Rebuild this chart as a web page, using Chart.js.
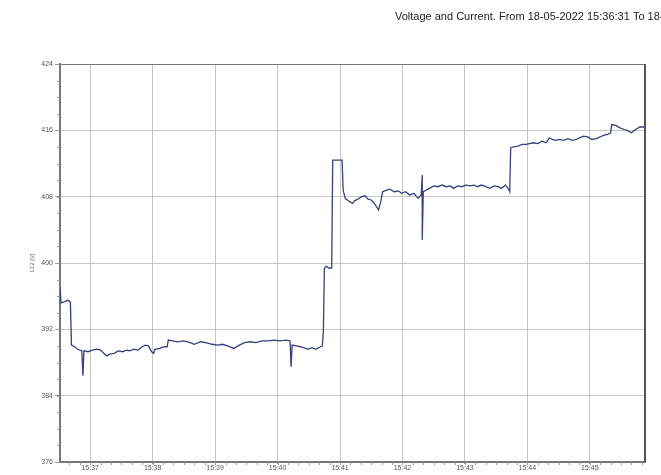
<!DOCTYPE html>
<html>
<head>
<meta charset="utf-8">
<script src="https://cdn.jsdelivr.net/npm/chart.js@4/dist/chart.umd.min.js"></script>
<style>
  html, body { margin: 0; padding: 0; background: #fff; overflow: hidden; }
</style>
</head>
<body>
<canvas id="c" width="661" height="475"></canvas>
<script>
// L12 line voltage log, 18-05-2022
const times = [
  '15:36:31','15:36:32','15:36:35','15:36:38','15:36:40','15:36:41','15:36:42','15:36:45','15:36:48','15:36:52',
  '15:36:53','15:36:54','15:36:58','15:37:02','15:37:06','15:37:10','15:37:13','15:37:16','15:37:19','15:37:23',
  '15:37:27','15:37:31','15:37:35','15:37:38','15:37:42','15:37:46','15:37:50','15:37:53','15:37:56','15:37:59',
  '15:38:01','15:38:02','15:38:07','15:38:11','15:38:14','15:38:15','15:38:19','15:38:24','15:38:30','15:38:36',
  '15:38:40','15:38:46','15:38:51','15:38:57','15:39:03','15:39:07','15:39:12','15:39:18','15:39:22','15:39:28',
  '15:39:34','15:39:39','15:39:45','15:39:51','15:39:57','15:40:02','15:40:08','15:40:12','15:40:13','15:40:14',
  '15:40:18','15:40:22','15:40:25','15:40:29','15:40:33','15:40:37','15:40:41','15:40:43','15:40:44','15:40:45',
  '15:40:47','15:40:49','15:40:52','15:40:53','15:40:57','15:41:02','15:41:03','15:41:05','15:41:08','15:41:12',
  '15:41:14','15:41:17','15:41:21','15:41:24','15:41:27','15:41:30','15:41:33','15:41:36','15:41:37','15:41:39',
  '15:41:41','15:41:45','15:41:48','15:41:52','15:41:56','15:41:59','15:42:03','15:42:07','15:42:11','15:42:15',
  '15:42:18','15:42:19','15:42:19','15:42:20','15:42:23','15:42:26','15:42:30','15:42:34','15:42:38','15:42:42',
  '15:42:46','15:42:49','15:42:53','15:42:57','15:43:01','15:43:05','15:43:09','15:43:12','15:43:16','15:43:20',
  '15:43:24','15:43:28','15:43:32','15:43:35','15:43:39','15:43:42','15:43:43','15:43:44','15:43:47','15:43:51',
  '15:43:55','15:43:59','15:44:02','15:44:06','15:44:10','15:44:14','15:44:18','15:44:21','15:44:24','15:44:27',
  '15:44:31','15:44:35','15:44:39','15:44:43','15:44:47','15:44:50','15:44:54','15:44:58','15:45:02','15:45:06',
  '15:45:10','15:45:13','15:45:17','15:45:20','15:45:21','15:45:25','15:45:29','15:45:33','15:45:36','15:45:40',
  '15:45:44','15:45:48','15:45:53'
];
const voltsL12 = [
  397.0,395.2,395.3,395.5,395.4,395.2,390.1,389.9,389.6,389.4,
  386.4,389.4,389.3,389.5,389.6,389.5,389.1,388.8,389.0,389.1,
  389.4,389.3,389.5,389.4,389.6,389.5,389.9,390.1,390.0,389.3,
  389.1,389.6,389.7,389.9,389.9,390.7,390.6,390.5,390.6,390.4,
  390.2,390.5,390.4,390.2,390.1,390.2,390.0,389.7,390.0,390.4,
  390.5,390.4,390.6,390.6,390.7,390.6,390.7,390.6,387.5,390.1,
  390.0,389.9,389.8,389.6,389.8,389.6,389.9,390.0,391.7,399.4,
  399.6,399.4,399.4,412.4,412.4,412.4,408.8,407.8,407.5,407.2,
  407.5,407.7,408.0,408.1,407.7,407.6,407.2,406.6,406.4,407.3,
  408.6,408.8,408.9,408.6,408.7,408.4,408.6,408.2,408.4,407.8,
  408.2,410.6,402.8,408.6,408.8,409.0,409.3,409.2,409.4,409.2,
  409.3,409.0,409.3,409.2,409.4,409.3,409.4,409.2,409.4,409.2,
  409.0,409.3,409.2,409.0,409.4,408.9,408.6,413.9,414.0,414.1,
  414.3,414.3,414.4,414.5,414.4,414.7,414.5,415.1,414.9,414.8,
  414.9,414.8,415.0,414.8,414.9,415.1,415.3,415.2,414.9,415.0,
  415.2,415.4,415.5,415.7,416.7,416.6,416.3,416.1,416.0,415.7,
  416.1,416.4,416.4
];
const xTickLabels = ['15:37','15:38','15:39','15:40','15:41','15:42','15:43','15:44','15:45'];
const yTickValues = [376, 384, 392, 400, 408, 416, 424];
const axisStart = '15:36:31';
const axisEnd = '15:45:53';
const titleText = 'Voltage and Current. From 18-05-2022 15:36:31 To 18-05-2022 15:45:53';
const yAxisTitle = 'L12 [V]';

// seconds since midnight
function toSec(t) {
  const p = t.split(':').map(Number);
  return p[0] * 3600 + p[1] * 60 + (p[2] || 0);
}
function fmt(sec) {
  const h = Math.floor(sec / 3600), m = Math.floor((sec % 3600) / 60);
  return String(h).padStart(2, '0') + ':' + String(m).padStart(2, '0');
}

const points = times.map((t, i) => ({ x: toSec(t), y: voltsL12[i] }));
const FONT = '"Liberation Sans", Arial, sans-serif';

// minor tick marks, outer frame and the header line
const framePlugin = {
  id: 'frame',
  afterDraw(chart) {
    const { ctx, chartArea: a, scales: { x, y } } = chart;
    ctx.save();
    ctx.strokeStyle = '#999';
    ctx.lineWidth = 1;
    for (let s = Math.ceil(x.min / 10) * 10; s <= x.max; s += 10) {
      const px = Math.round(x.getPixelForValue(s)) + 0.5;
      ctx.beginPath(); ctx.moveTo(px, a.bottom); ctx.lineTo(px, a.bottom + 3); ctx.stroke();
    }
    for (let v = y.min; v <= y.max; v += 2) {
      const py = Math.round(y.getPixelForValue(v)) + 0.5;
      ctx.beginPath(); ctx.moveTo(a.left - 3, py); ctx.lineTo(a.left, py); ctx.stroke();
    }
    ctx.strokeStyle = '#777';
    ctx.lineWidth = 1;
    ctx.beginPath(); ctx.moveTo(a.left, a.top + 0.5); ctx.lineTo(a.right, a.top + 0.5); ctx.stroke();
    ctx.strokeStyle = '#555';
    ctx.lineWidth = 2;
    ctx.beginPath(); ctx.moveTo(a.right, a.top); ctx.lineTo(a.right, a.bottom); ctx.stroke();

    ctx.font = '11px ' + FONT;
    ctx.fillStyle = '#222';
    ctx.textBaseline = 'middle';
    ctx.textAlign = 'left';
    ctx.fillText(titleText, 395, 17);
    ctx.restore();
  }
};

new Chart(document.getElementById('c'), {
  type: 'line',
  data: {
    datasets: [{
      data: points,
      borderColor: '#3a3e7c',
      borderWidth: 1.3,
      pointRadius: 0,
      tension: 0,
      fill: false
    }]
  },
  options: {
    responsive: false,
    animation: false,
    events: [],
    layout: { padding: { left: 0, top: 64, right: 16, bottom: 0 } },
    plugins: { legend: { display: false }, tooltip: { enabled: false }, title: { display: false } },
    scales: {
      x: {
        type: 'linear',
        min: toSec(axisStart),
        max: toSec(axisEnd),
        afterBuildTicks: s => { s.ticks = xTickLabels.map(l => ({ value: toSec(l) })); },
        afterFit: s => { s.height = 13; },
        ticks: {
          callback: v => fmt(v),
          font: { family: FONT, size: 7 },
          color: '#555',
          padding: 0,
          maxRotation: 0,
          autoSkip: false
        },
        grid: { color: '#c6c6c6', lineWidth: 1, tickLength: 2, tickColor: '#999' },
        border: { color: '#777', width: 2 }
      },
      y: {
        min: yTickValues[0],
        max: yTickValues[yTickValues.length - 1],
        afterBuildTicks: s => { s.ticks = yTickValues.map(v => ({ value: v })); },
        afterFit: s => { s.width = 60; },
        ticks: {
          font: { family: FONT, size: 7 },
          color: '#555',
          padding: 2,
          autoSkip: false
        },
        grid: { color: '#c6c6c6', lineWidth: 1, tickLength: 5, tickColor: '#999' },
        border: { color: '#777', width: 2 },
        title: {
          display: true,
          text: yAxisTitle,
          font: { family: FONT, size: 6 },
          color: '#666',
          padding: { top: 29, bottom: 0 }
        }
      }
    }
  },
  plugins: [framePlugin]
});
</script>
</body>
</html>
